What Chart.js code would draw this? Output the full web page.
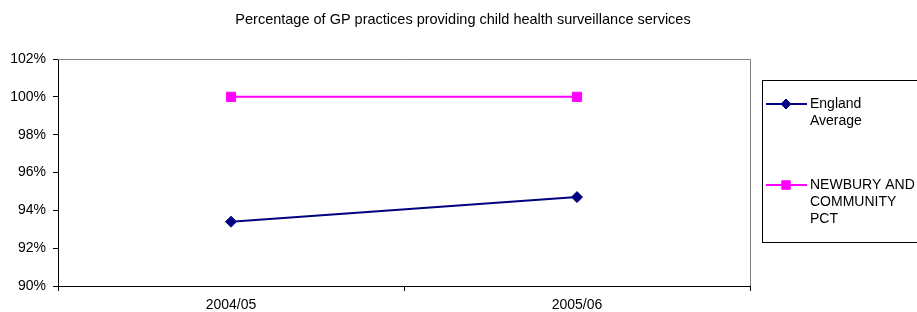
<!DOCTYPE html>
<html>
<head>
<meta charset="utf-8">
<script src="https://cdn.jsdelivr.net/npm/chart.js@4/dist/chart.umd.min.js"></script>
<style>
html,body{margin:0;padding:0;background:#fff;}
#wrap{position:relative;width:917px;height:312px;}
</style>
</head>
<body>
<div id="wrap"><canvas id="c" width="917" height="312"></canvas></div>
<script>
const chartTitle = 'Percentage of GP practices providing child health surveillance services';
const categories = ['2004/05', '2005/06'];
const englandLabel = ['England', 'Average'];
const englandValues = [93.4, 94.7];
const newburyLabel = ['NEWBURY AND', 'COMMUNITY', 'PCT'];
const newburyValues = [100, 100];
const yMin = 90, yMax = 102, yStep = 2;

const FONT = '"Liberation Sans", Arial, sans-serif';

const framePlugin = {
  id: 'frame',
  afterDraw(chart) {
    const ctx = chart.ctx;
    const a = chart.chartArea;
    ctx.save();
    ctx.strokeStyle = '#808080';
    ctx.lineWidth = 1;
    ctx.beginPath();
    ctx.moveTo(a.left, a.top + 0.5);
    ctx.lineTo(a.right + 0.5, a.top + 0.5);
    ctx.lineTo(a.right + 0.5, a.bottom);
    ctx.stroke();
    ctx.fillStyle = '#000';
    ctx.font = '14.5px ' + FONT;
    ctx.textAlign = 'center';
    ctx.textBaseline = 'middle';
    ctx.fillText(chartTitle, 463, 20);
    const lx = 762, ly = 80, lh = 162;
    ctx.strokeStyle = '#000';
    ctx.strokeRect(lx + 0.5, ly + 0.5, 200, lh);
    const rows = [104, 185];
    chart.data.datasets.forEach((ds, i) => {
      const y = rows[i];
      ctx.strokeStyle = ds.borderColor;
      ctx.lineWidth = 2;
      ctx.beginPath();
      ctx.moveTo(766, y);
      ctx.lineTo(807, y);
      ctx.stroke();
      ctx.fillStyle = ds.pointBackgroundColor;
      ctx.strokeStyle = ds.pointBorderColor;
      ctx.lineWidth = 1;
      Chart.helpers.drawPoint(ctx, {pointStyle: ds.pointStyle, rotation: 0, borderWidth: 1, radius: ds.legendRadius}, 786, y);
      ctx.fillStyle = '#000';
      ctx.font = '14px ' + FONT;
      ctx.textAlign = 'left';
      ctx.textBaseline = 'middle';
      ds.label.forEach((t, k) => ctx.fillText(t, 810, y + k * 17));
    });
    ctx.restore();
  }
};

new Chart(document.getElementById('c'), {
  type: 'line',
  data: {
    labels: categories,
    datasets: [
      {
        label: englandLabel,
        data: englandValues,
        borderColor: '#000080',
        backgroundColor: '#000080',
        pointBackgroundColor: '#000080',
        pointBorderColor: '#000080',
        pointStyle: 'rectRot',
        pointRadius: 5.5,
        legendRadius: 5,
        pointBorderWidth: 1,
        borderWidth: 2,
        tension: 0
      },
      {
        label: newburyLabel,
        data: newburyValues,
        borderColor: '#FF00FF',
        backgroundColor: '#FF00FF',
        pointBackgroundColor: '#FF00FF',
        pointBorderColor: '#FF00FF',
        pointStyle: 'rect',
        pointRadius: 6.5,
        legendRadius: 6,
        pointBorderWidth: 1,
        borderWidth: 2,
        tension: 0
      }
    ]
  },
  options: {
    responsive: false,
    animation: false,
    devicePixelRatio: 1,
    layout: {padding: {top: 59, right: 167, left: 0, bottom: 0}},
    plugins: {legend: {display: false}, title: {display: false}, tooltip: {enabled: false}},
    scales: {
      x: {
        offset: true,
        grid: {offset: true, drawOnChartArea: false, drawTicks: true, tickLength: 5, color: '#000'},
        border: {color: '#000', width: 1},
        ticks: {color: '#000', font: {family: FONT, size: 14}, padding: 6, maxRotation: 0},
        afterFit(s) { s.height = 26; }
      },
      y: {
        min: yMin, max: yMax,
        grid: {drawOnChartArea: false, drawTicks: true, tickLength: 5, color: '#000'},
        border: {color: '#000', width: 1},
        ticks: {stepSize: yStep, color: '#000', font: {family: FONT, size: 14}, padding: 7,
          callback: v => v + '%'},
        afterFit(s) { s.width = 58; }
      }
    }
  },
  plugins: [framePlugin]
});
</script>
</body>
</html>
